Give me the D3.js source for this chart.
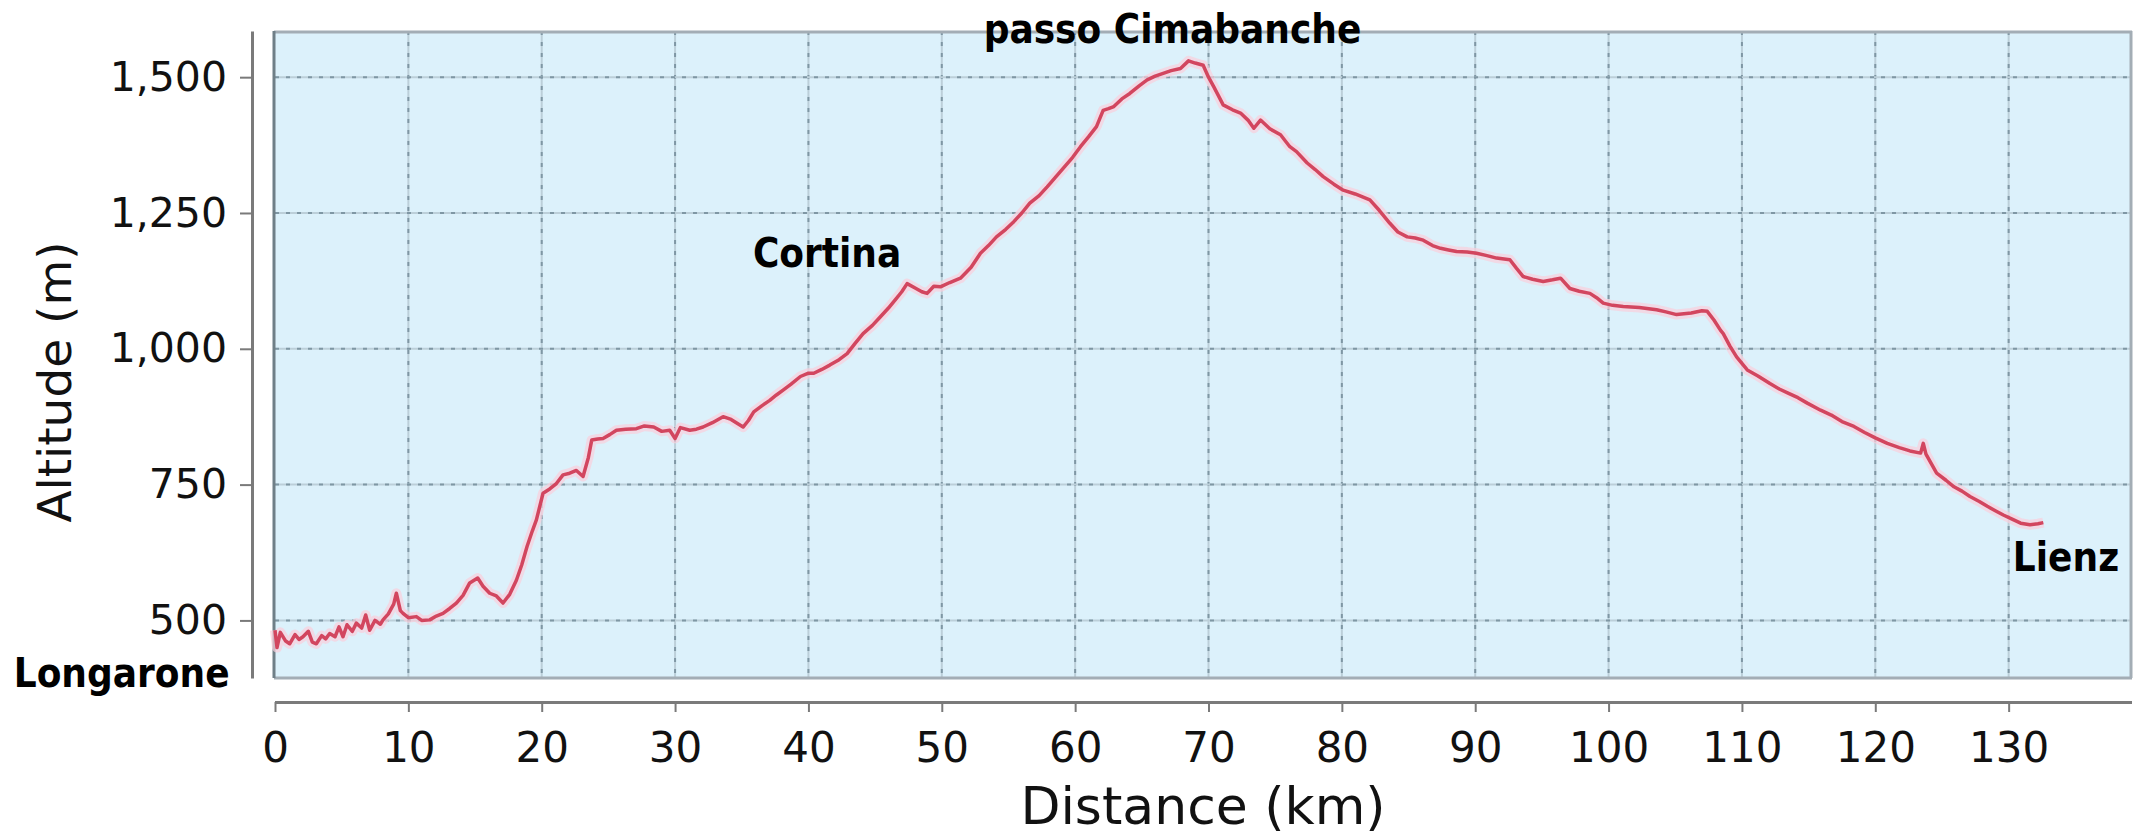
<!DOCTYPE html>
<html>
<head>
<meta charset="utf-8">
<script src="https://cdn.jsdelivr.net/npm/d3@7"></script>
<style>
  html, body { margin: 0; padding: 0; background: #ffffff; }
  svg { display: block; }
</style>
</head>
<body>
<svg id="chart" width="2146" height="838"></svg>
<script>
// ---------- data ----------
const distKm = [
  0.0, 0.15, 0.4, 0.8, 1.1, 1.5, 1.8, 2.1, 2.5, 2.8, 3.1, 3.5, 3.8, 4.1, 4.5, 4.8, 5.1, 5.4, 5.8, 6.1,
  6.5, 6.8, 7.1, 7.5, 7.9, 8.1, 8.5, 8.9, 9.1, 9.4, 9.6, 10.0, 10.6, 11.0, 11.6, 12.1, 12.6, 13.1, 13.6, 14.1,
  14.6, 15.2, 15.6, 16.1, 16.6, 17.1, 17.6, 18.1, 18.5, 18.9, 19.3, 19.6, 20.1, 20.6, 21.1, 21.6, 22.1, 22.6, 23.1, 23.5,
  23.75, 24.2, 24.6, 25.1, 25.6, 26.3, 27.1, 27.7, 28.4, 29.0, 29.6, 30.0, 30.4, 31.1, 31.6, 32.1, 32.8, 33.6, 34.2, 35.1,
  35.5, 35.9, 36.5, 37.1, 37.6, 38.1, 38.7, 39.4, 40.0, 40.4, 41.0, 41.6, 42.3, 42.9, 43.5, 44.1, 44.8, 45.4, 46.0, 46.6,
  47.0, 47.4, 48.0, 48.5, 48.9, 49.4, 49.9, 50.6, 51.4, 52.2, 52.9, 53.5, 54.1, 54.8, 55.4, 56.0, 56.6, 57.3, 57.9, 58.5,
  59.1, 59.8, 60.4, 61.0, 61.6, 62.1, 62.5, 62.9, 63.5, 64.1, 64.8, 65.4, 66.0, 66.6, 67.2, 67.9, 68.5, 69.0, 69.6, 70.0,
  70.4, 71.1, 71.8, 72.4, 73.0, 73.4, 73.9, 74.6, 75.4, 76.1, 76.6, 77.4, 78.0, 78.6, 79.4, 80.1, 81.0, 82.1, 82.8, 83.6,
  84.2, 84.9, 85.5, 86.1, 86.8, 87.4, 88.0, 88.6, 89.4, 90.1, 90.8, 91.6, 92.6, 93.1, 93.6, 94.3, 95.1, 95.8, 96.4, 97.1,
  97.8, 98.6, 99.1, 99.6, 100.3, 101.1, 102.3, 103.6, 104.3, 105.1, 106.2, 107.0, 107.4, 107.9, 108.4, 108.6, 109.1, 109.6, 110.4, 111.2,
  112.1, 112.8, 113.5, 114.2, 114.9, 115.9, 116.7, 117.5, 118.4, 119.2, 120.0, 120.9, 121.8, 122.6, 123.4, 123.6, 123.8, 124.6, 125.3, 125.9,
  126.5, 127.1, 127.8, 128.4, 129.0, 129.6, 130.3, 130.9, 131.6, 132.2, 132.6
];
const altitudeM = [
  482, 450, 478, 462, 457, 474, 465, 470, 480, 460, 457, 472, 466, 476, 470, 488, 470, 492, 480, 495,
  486, 510, 482, 500, 493, 501, 512, 530, 550, 518, 513, 505, 507, 500, 501, 508, 513, 522, 532, 546,
  569, 578, 563, 550, 545, 532, 548, 574, 602, 636, 665, 685, 734, 742, 752, 768, 771, 776, 765, 800,
  832, 834, 835, 842, 850, 852, 853, 858, 856, 848, 850, 835, 855, 850, 852, 856, 864, 875, 870, 856,
  868, 884, 895, 905, 915, 924, 935, 949, 955, 955, 962, 970, 980, 991, 1010, 1028, 1043, 1059, 1075, 1093,
  1105, 1120, 1112, 1105, 1102, 1115, 1114, 1122, 1130, 1150, 1176, 1190, 1206, 1220, 1234, 1250, 1268, 1282, 1298, 1315,
  1332, 1352, 1372, 1390, 1409, 1439, 1442, 1446, 1460, 1470, 1484, 1495, 1502, 1507, 1512, 1516, 1530, 1526, 1522, 1500,
  1482, 1449, 1440, 1434, 1420, 1406, 1421, 1405, 1394, 1372, 1363, 1342, 1330, 1317, 1303, 1292, 1285, 1274, 1255, 1231,
  1215, 1206, 1204, 1200, 1190, 1185, 1182, 1179, 1178, 1176, 1172, 1167, 1164, 1148, 1133, 1128, 1124, 1127, 1130, 1111,
  1106, 1102, 1094, 1084, 1080, 1078, 1076, 1072, 1068, 1063, 1066, 1070, 1069, 1053, 1034, 1028, 1005, 985, 961, 950,
  936, 926, 918, 910, 900, 887, 878, 866, 857, 846, 836, 826, 818, 812, 808, 826, 806, 771, 758, 746,
  738, 728, 719, 710, 702, 694, 686, 679, 676, 678, 680
];
const xTickValues = [0, 10, 20, 30, 40, 50, 60, 70, 80, 90, 100, 110, 120, 130];
const yTickValues = [500, 750, 1000, 1250, 1500];
const placeNames = ["Longarone", "Cortina", "passo Cimabanche", "Lienz"];
const placeKm = [-11.5, 41.4, 67.3, 134.3];
const placeAlt = [378, 1150, 1562, 591];
const xTitle = "Distance (km)";
const yTitle = "Altitude (m)";

// ---------- chart ----------
const svg = d3.select("#chart");
const x = d3.scaleLinear().domain([0, 139.1]).range([275, 2130]);
const y = d3.scaleLinear().domain([394, 1585]).range([678, 31]);
const [x0, x1] = x.range();
const [yb, yt] = y.range();

// plot background
svg.append("rect")
  .attr("x", x0 - 1).attr("y", yt)
  .attr("width", x1 - x0 + 3).attr("height", yb - yt)
  .attr("fill", "#dcf1fb");

// grid
const grid = svg.append("g");
xTickValues.filter(v => v > 0).forEach(v => {
  grid.append("line").attr("x1", x(v)).attr("x2", x(v)).attr("y1", yt).attr("y2", yb)
    .attr("stroke", "#bccfd9").attr("stroke-width", 2);
  grid.append("line").attr("x1", x(v)).attr("x2", x(v)).attr("y1", yt).attr("y2", yb)
    .attr("stroke", "#7f97a4").attr("stroke-width", 2).attr("stroke-dasharray", "4,7");
});
yTickValues.forEach(v => {
  grid.append("line").attr("x1", x0).attr("x2", x1).attr("y1", y(v)).attr("y2", y(v))
    .attr("stroke", "#bccfd9").attr("stroke-width", 2);
  grid.append("line").attr("x1", x0).attr("x2", x1).attr("y1", y(v)).attr("y2", y(v))
    .attr("stroke", "#7f97a4").attr("stroke-width", 2).attr("stroke-dasharray", "4,7");
});

// frame
svg.append("line").attr("x1", x0 - 1).attr("x2", x1 + 2).attr("y1", yt + 1).attr("y2", yt + 1)
  .attr("stroke", "#a3adb5").attr("stroke-width", 3);
svg.append("line").attr("x1", x1 + 1).attr("x2", x1 + 1).attr("y1", yt).attr("y2", yb)
  .attr("stroke", "#a3adb5").attr("stroke-width", 3);
svg.append("line").attr("x1", x0 - 1).attr("x2", x1 + 2).attr("y1", yb).attr("y2", yb)
  .attr("stroke", "#a3adb5").attr("stroke-width", 3);
svg.append("line").attr("x1", x0 - 1).attr("x2", x0 - 1).attr("y1", yt).attr("y2", yb)
  .attr("stroke", "#6f7f87").attr("stroke-width", 3);

// profile line
const pts = distKm.map((d, i) => [d, altitudeM[i]]);
const line = d3.line().x(d => x(d[0])).y(d => y(d[1]));
svg.append("path").datum(pts).attr("d", line)
  .attr("fill", "none").attr("stroke", "#f9cfdc").attr("stroke-width", 10)
  .attr("stroke-linejoin", "round").attr("opacity", 0.7);
svg.append("path").datum(pts).attr("d", line)
  .attr("fill", "none").attr("stroke", "#d2465f").attr("stroke-width", 3.5)
  .attr("stroke-linejoin", "round");

// axes
const xAxis = svg.append("g").attr("transform", "translate(0,702)")
  .call(d3.axisBottom(x).tickValues(xTickValues).tickSize(10).tickSizeOuter(0).tickPadding(20));
xAxis.select(".domain").attr("stroke", "#7a7a7a").attr("stroke-width", 3)
  .attr("d", `M${x0},0.5H${x1 + 2}`);
xAxis.selectAll(".tick line").attr("stroke", "#7a7a7a").attr("stroke-width", 2);
xAxis.selectAll(".tick text").attr("font-family", "DejaVu Sans").attr("font-size", 42).attr("fill", "#111");

const yAxis = svg.append("g").attr("transform", "translate(252,0)")
  .call(d3.axisLeft(y).tickValues(yTickValues).tickFormat(d3.format(",")).tickSize(12).tickSizeOuter(0).tickPadding(13));
yAxis.select(".domain").attr("stroke", "#7a7a7a").attr("stroke-width", 3);
yAxis.selectAll(".tick line").attr("stroke", "#7a7a7a").attr("stroke-width", 2);
yAxis.selectAll(".tick text").attr("font-family", "DejaVu Sans").attr("font-size", 41).attr("fill", "#111");

// axis titles
svg.append("text").attr("x", 1203).attr("y", 824).attr("text-anchor", "middle")
  .attr("font-family", "DejaVu Sans").attr("font-size", 52).attr("fill", "#111").text(xTitle);
svg.append("text").attr("transform", "translate(71,382) rotate(-90)").attr("text-anchor", "middle")
  .attr("font-family", "DejaVu Sans").attr("font-size", 47).attr("fill", "#111").text(yTitle);

// place labels
placeNames.forEach((name, i) => {
  svg.append("text").attr("x", x(placeKm[i])).attr("y", y(placeAlt[i]))
    .attr("text-anchor", "middle")
    .attr("font-family", "DejaVu Sans Condensed, DejaVu Sans, sans-serif").attr("font-weight", "bold")
    .attr("font-stretch", "condensed")
    .attr("font-size", 40).attr("fill", "#000").text(name);
});
</script>
</body>
</html>
